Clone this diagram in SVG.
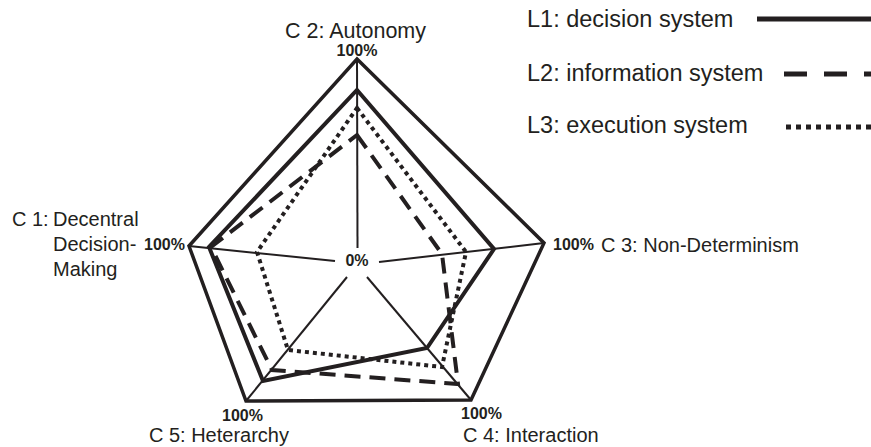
<svg xmlns="http://www.w3.org/2000/svg" width="871" height="447" viewBox="0 0 871 447">
<style>
text{font-family:"Liberation Sans",Arial,sans-serif;fill:#231f20}
.lab{font-size:20px}
.leg{font-size:23.5px}
.pct{font-size:16px;font-weight:bold}
.frame{fill:none;stroke:#231f20;stroke-width:3.5;stroke-linejoin:miter}
.axis{stroke:#231f20;stroke-width:2;fill:none}
.l1{fill:none;stroke:#231f20;stroke-width:4;stroke-linejoin:miter}
.l2{fill:none;stroke:#231f20;stroke-width:4;stroke-dasharray:16 9}
.l3{fill:none;stroke:#231f20;stroke-width:4;stroke-dasharray:4 4}
</style>
<rect width="871" height="447" fill="#fff"/>
<g id="frame">
<polygon class="frame" points="357,59 544,243 471,400 246,401 189,246"/>
</g>
<g id="axes">
<line class="axis" x1="357.5" y1="248" x2="357" y2="59"/>
<line class="axis" x1="335" y1="261" x2="189" y2="246"/>
<line class="axis" x1="379" y1="262" x2="544" y2="243"/>
<line class="axis" x1="347" y1="277" x2="246" y2="401"/>
<line class="axis" x1="367" y1="277" x2="471" y2="400"/>
</g>
<g id="series">
<polygon id="L1" class="l1" points="357,90 494,249 427,348 263,381 209,247"/>
<polygon id="L2" class="l2" points="357,135 442,254 458,384 272,370 211,247"/>
<polygon id="L3" class="l3" points="357,108 466,252 442,367 288,350 257,252"/>
</g>
<g id="labels">
<text class="pct" x="357" y="266" text-anchor="middle">0%</text>
<text class="lab" x="285" y="38" style="font-size:21.5px">C 2: Autonomy</text>
<text class="pct" x="357" y="56" text-anchor="middle">100%</text>
<text class="lab" x="12" y="226">C 1:</text>
<text class="lab" x="53" y="226">Decentral</text>
<text class="lab" x="53" y="251">Decision-</text>
<text class="lab" x="53" y="276">Making</text>
<text class="pct" x="144" y="250">100%</text>
<text class="pct" x="553" y="250">100%</text>
<text class="lab" x="601" y="252">C 3: Non-Determinism</text>
<text class="pct" x="461" y="419">100%</text>
<text class="lab" x="463" y="442">C 4: Interaction</text>
<text class="pct" x="222" y="421">100%</text>
<text class="lab" x="289" y="442" text-anchor="end">C 5: Heterarchy</text>
</g>
<g id="legend">
<text class="leg" x="527" y="27">L1: decision system</text>
<line x1="757" y1="19" x2="871" y2="19" stroke="#231f20" stroke-width="5"/>
<text class="leg" x="527" y="81">L2: information system</text>
<line x1="784" y1="74" x2="871" y2="74" stroke="#231f20" stroke-width="5" stroke-dasharray="23 17"/>
<text class="leg" x="527" y="133">L3: execution system</text>
<line x1="786" y1="127" x2="871" y2="127" stroke="#231f20" stroke-width="5" stroke-dasharray="5 5"/>
</g>
</svg>
